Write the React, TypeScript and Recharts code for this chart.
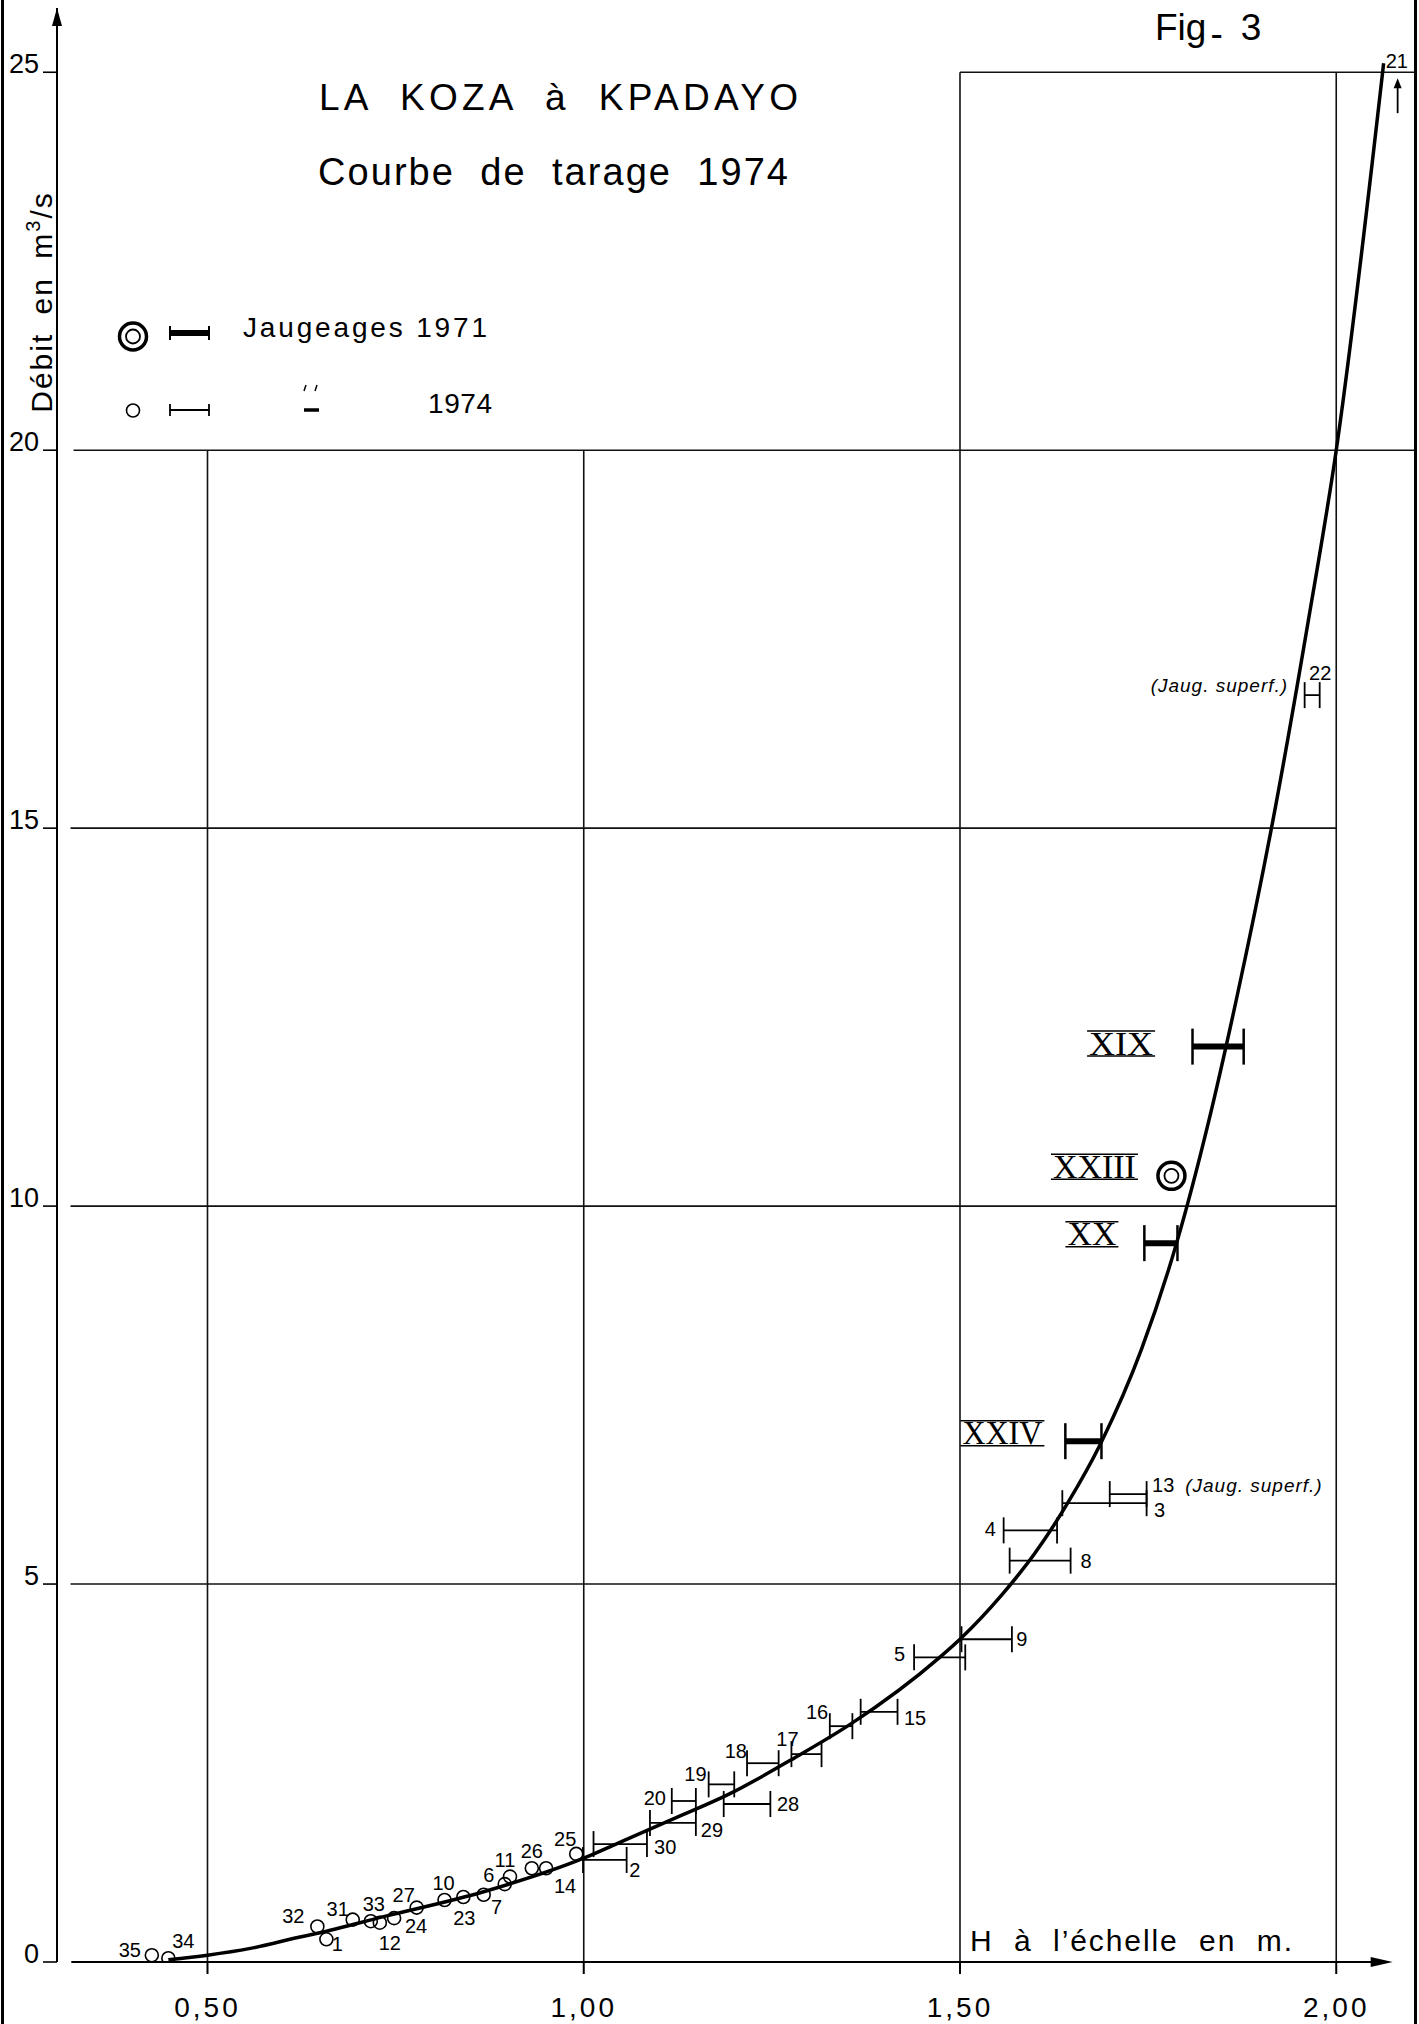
import React from "react"
import {
  ComposedChart,
  Line,
  Scatter,
  ErrorBar,
  XAxis,
  YAxis,
  ReferenceLine,
  ReferenceDot,
} from "recharts"

const FONT = "'Liberation Sans', Arial, sans-serif"
const SERIF = "'Liberation Serif', 'Times New Roman', serif"

// courbe de tarage 1974 (H en m, Q en m3/s)
const CURVE_H = [0.448, 0.5, 0.557, 0.623, 0.646, 0.734, 0.867, 0.999, 1.045, 1.116, 1.195, 1.28, 1.355, 1.473, 1.501, 1.555, 1.599, 1.643, 1.687, 1.741, 1.789, 1.83, 1.867, 1.916, 1.963, 2.0, 2.063]
const CURVE_Q = [0.03, 0.09, 0.18, 0.33, 0.38, 0.6, 0.93, 1.37, 1.57, 1.88, 2.23, 2.7, 3.15, 4.03, 4.28, 4.85, 5.4, 6.07, 6.86, 8.1, 9.55, 11.1, 12.72, 15.11, 17.75, 20.0, 25.12]

// jaugeages 1974 - cercles
const C74_ID = ["35", "34", "32", "1", "31", "33", "12", "24", "27", "10", "23", "7", "6", "11", "26", "14", "25"]
const C74_H = [0.426, 0.448, 0.646, 0.658, 0.693, 0.717, 0.729, 0.748, 0.778, 0.815, 0.84, 0.867, 0.895, 0.902, 0.931, 0.95, 0.99]
const C74_Q = [0.09, 0.05, 0.47, 0.3, 0.56, 0.54, 0.52, 0.58, 0.72, 0.82, 0.86, 0.89, 1.03, 1.13, 1.24, 1.24, 1.43]

// jaugeages 1974 - plages de H
const B74_ID = ["2", "30", "29", "20", "28", "19", "18", "17", "16", "15", "5", "9", "8", "4", "3", "13", "22"]
const B74_HMIN = [0.999, 1.013, 1.088, 1.117, 1.186, 1.166, 1.217, 1.276, 1.327, 1.368, 1.439, 1.502, 1.566, 1.558, 1.636, 1.699, 1.958]
const B74_HMAX = [1.057, 1.084, 1.149, 1.149, 1.248, 1.2, 1.259, 1.316, 1.357, 1.417, 1.507, 1.569, 1.647, 1.629, 1.748, 1.748, 1.978]
const B74_Q = [1.35, 1.56, 1.84, 2.13, 2.09, 2.35, 2.63, 2.75, 3.12, 3.31, 4.03, 4.27, 5.31, 5.71, 6.07, 6.19, 16.76]

// jaugeages 1971
const B71_ID = ["XIX", "XX", "XXIV"]
const B71_HMIN = [1.809, 1.745, 1.64]
const B71_HMAX = [1.877, 1.789, 1.688]
const B71_Q = [12.11, 9.51, 6.89]
const C71_ID = ["XXIII"]
const C71_H = [1.781]
const C71_Q = [10.4]

const Y_TICKS = [0, 5, 10, 15, 20, 25]
const X_TICKS = [0.5, 1.0, 1.5, 2.0]

// label placement (px from the mark, text centre)
const LBL: Record<string, [number, number]> = {
  "35": [-22, -5], "34": [15, -17], "32": [-24, -10], "1": [11, 5], "31": [-15, -11],
  "33": [3, -17], "12": [10, 20], "24": [22, 8], "27": [-13, -13], "10": [-1, -17],
  "23": [1, 21], "7": [13, 12], "6": [-16, -9], "11": [-5, -17], "26": [0, -17],
  "14": [19, 18], "25": [-11, -15],
  "2": [30, 10], "30": [45, 3], "29": [39, 7], "20": [-29, -3], "28": [41, 0],
  "19": [-26, -10], "18": [-27, -12], "17": [-19, -15], "16": [-24, -14], "15": [36, 6],
  "5": [-40, -3], "9": [35, 0], "8": [46, 0], "4": [-40, -1], "3": [55, 7],
  "13": [35, -9], "22": [8, -22],
}
const NOTE: Record<string, [number, number, "start" | "end"]> = {
  "13": [57, -9, "start"],
  "22": [-24, -10, "end"],
}
const ROMAN: Record<string, [number, number, number]> = {
  XIX: [-97, -3, 68], XX: [-69, -9, 53], XXIV: [-81, -8, 84], XXIII: [-77, -9, 87],
}

const curve = CURVE_H.map((h, i) => ({ h, q: CURVE_Q[i] }))
const circles74 = C74_ID.map((id, i) => ({ id, h: C74_H[i], q: C74_Q[i] }))
const bars74 = B74_ID.map((id, i) => ({
  id,
  h: (B74_HMIN[i] + B74_HMAX[i]) / 2,
  q: B74_Q[i],
  err: (B74_HMAX[i] - B74_HMIN[i]) / 2,
}))
const bars71 = B71_ID.map((id, i) => ({
  id,
  h: (B71_HMIN[i] + B71_HMAX[i]) / 2,
  q: B71_Q[i],
  err: (B71_HMAX[i] - B71_HMIN[i]) / 2,
}))
const circles71 = C71_ID.map((id, i) => ({ id, h: C71_H[i], q: C71_Q[i] }))

function NumLabel({ cx, cy, id }: any) {
  const [dx, dy] = LBL[id] ?? [0, -16]
  const note = NOTE[id]
  return (
    <g>
      <text x={cx + dx} y={cy + dy + 7} textAnchor="middle" fontSize={20} fontFamily={FONT}>
        {id}
      </text>
      {note && (
        <text
          x={cx + note[0]}
          y={cy + note[1] + 7}
          textAnchor={note[2]}
          fontSize={19}
          fontStyle="italic"
          fontFamily={FONT}
          letterSpacing={1}
        >
          (Jaug. superf.)
        </text>
      )}
    </g>
  )
}

function RomanLabel({ cx, cy, id }: any) {
  const [dx, dy, w] = ROMAN[id]
  const x = cx + dx
  const y = cy + dy
  return (
    <g>
      <line x1={x - w / 2} x2={x + w / 2} y1={y - 12.5} y2={y - 12.5} stroke="#000" strokeWidth={1.5} />
      <line x1={x - w / 2} x2={x + w / 2} y1={y + 12.5} y2={y + 12.5} stroke="#000" strokeWidth={1.5} />
      <text
        x={x}
        y={y + 11}
        textAnchor="middle"
        fontSize={33}
        fontFamily={SERIF}
        textLength={w - 4}
        lengthAdjust="spacingAndGlyphs"
      >
        {id}
      </text>
    </g>
  )
}

const circleShape = (p: any) => (
  <g>
    <circle cx={p.cx} cy={p.cy} r={6.5} fill="none" stroke="#000" strokeWidth={1.6} />
    <NumLabel cx={p.cx} cy={p.cy} id={p.payload.id} />
  </g>
)
const barLabelShape = (p: any) => <NumLabel cx={p.cx} cy={p.cy} id={p.payload.id} />
const romanShape = (p: any) => <RomanLabel cx={p.cx} cy={p.cy} id={p.payload.id} />
const doubleCircleShape = (p: any) => (
  <g>
    <circle cx={p.cx} cy={p.cy} r={13.5} fill="none" stroke="#000" strokeWidth={3.5} />
    <circle cx={p.cx} cy={p.cy} r={7} fill="none" stroke="#000" strokeWidth={1.8} />
    <RomanLabel cx={p.cx} cy={p.cy} id={p.payload.id} />
  </g>
)

function XTick({ x, y, payload }: any) {
  return (
    <text x={x} y={y + 43} textAnchor="middle" fontSize={28} fontFamily={FONT} letterSpacing={3}>
      {Number(payload.value).toFixed(2).replace(".", ",")}
    </text>
  )
}

function YTick({ x, y, payload }: any) {
  return (
    <g>
      <text x={x - 18} y={y + 1} textAnchor="end" fontSize={27} fontFamily={FONT}>
        {payload.value}
      </text>
      <line x1={x - 14} x2={x} y1={y} y2={y} stroke="#000" strokeWidth={1.6} />
    </g>
  )
}

const gridStyle = { stroke: "#111", strokeWidth: 1.6 }

export default function App() {
  return (
    <div style={{ position: "absolute", left: 0, top: 0, width: 1419, height: 2024, background: "#fff" }}>
      <ComposedChart width={1419} height={2024} margin={{ top: 8, right: 3, bottom: 0, left: 0 }}>
        <XAxis
          dataKey="h"
          type="number"
          domain={[0.3, 2.106]}
          ticks={X_TICKS}
          allowDataOverflow
          height={62}
          axisLine={false}
          tickSize={12}
          tickMargin={0}
          tickLine={{ stroke: "#000", strokeWidth: 2 }}
          tick={<XTick />}
        />
        <YAxis
          type="number"
          domain={[0, 25.85]}
          ticks={Y_TICKS}
          allowDataOverflow
          width={57}
          tickSize={0}
          tickMargin={0}
          tickLine={false}
          axisLine={{ stroke: "#000", strokeWidth: 2 }}
          tick={<YTick />}
        />

        {/* grille */}
        <ReferenceLine segment={[{ x: 1.5, y: 25 }, { x: 2.106, y: 25 }]} {...gridStyle} />
        <ReferenceLine segment={[{ x: 0.322, y: 20 }, { x: 2.106, y: 20 }]} {...gridStyle} />
        <ReferenceLine segment={[{ x: 0.318, y: 15 }, { x: 2.0, y: 15 }]} {...gridStyle} />
        <ReferenceLine segment={[{ x: 0.318, y: 10 }, { x: 2.0, y: 10 }]} {...gridStyle} />
        <ReferenceLine segment={[{ x: 0.318, y: 5 }, { x: 2.0, y: 5 }]} {...gridStyle} />
        <ReferenceLine segment={[{ x: 0.5, y: 0 }, { x: 0.5, y: 20 }]} {...gridStyle} />
        <ReferenceLine segment={[{ x: 1.0, y: 0 }, { x: 1.0, y: 20 }]} {...gridStyle} />
        <ReferenceLine segment={[{ x: 1.5, y: 0 }, { x: 1.5, y: 25 }]} {...gridStyle} />
        <ReferenceLine segment={[{ x: 2.0, y: 0 }, { x: 2.0, y: 25 }]} {...gridStyle} />
        {/* axe des H */}
        <ReferenceLine segment={[{ x: 0.319, y: 0 }, { x: 2.06, y: 0 }]} stroke="#000" strokeWidth={2} />
        <ReferenceDot
          x={2.075}
          y={0}
          ifOverflow="visible"
          shape={(p: any) => (
            <polygon points={`${p.cx},${p.cy} ${p.cx - 22},${p.cy - 5} ${p.cx - 22},${p.cy + 5}`} fill="#000" />
          )}
        />
        <ReferenceDot
          x={0.3}
          y={25.85}
          ifOverflow="visible"
          shape={(p: any) => (
            <polygon points={`${p.cx},${p.cy} ${p.cx - 5},${p.cy + 18} ${p.cx + 5},${p.cy + 18}`} fill="#000" />
          )}
        />

        <Line
          data={curve}
          dataKey="q"
          type="monotone"
          stroke="#000"
          strokeWidth={3.5}
          dot={false}
          isAnimationActive={false}
        />

        {/* jaugeage 21 hors cadre */}
        <ReferenceDot
          x={2.063}
          y={25.12}
          ifOverflow="visible"
          shape={(p: any) => (
            <g>
              <text x={p.cx + 2} y={p.cy + 5} fontSize={20} fontFamily={FONT}>21</text>
              <line x1={p.cx + 14} x2={p.cx + 14} y1={p.cy + 50} y2={p.cy + 22} stroke="#000" strokeWidth={1.8} />
              <polygon
                points={`${p.cx + 14},${p.cy + 15} ${p.cx + 10},${p.cy + 25} ${p.cx + 18},${p.cy + 25}`}
                fill="#000"
              />
            </g>
          )}
        />

        <Scatter data={bars74} dataKey="q" shape={barLabelShape} isAnimationActive={false}>
          <ErrorBar dataKey="err" direction="x" width={13} stroke="#000" strokeWidth={1.8} isAnimationActive={false} />
        </Scatter>
        <Scatter data={bars71} dataKey="q" shape={romanShape} isAnimationActive={false}>
          <ErrorBar dataKey="err" direction="x" width={0} stroke="#000" strokeWidth={6} isAnimationActive={false} />
          <ErrorBar dataKey="err" direction="x" width={18} stroke="#000" strokeWidth={2.5} isAnimationActive={false} />
        </Scatter>
        <Scatter data={circles74} dataKey="q" shape={circleShape} isAnimationActive={false} />
        <Scatter data={circles71} dataKey="q" shape={doubleCircleShape} isAnimationActive={false} />
      </ComposedChart>

      <svg
        width={1419}
        height={2024}
        style={{ position: "absolute", left: 0, top: 0, pointerEvents: "none" }}
      >
        <line x1={2.5} x2={2.5} y1={0} y2={2024} stroke="#000" strokeWidth={3} />
        <line x1={1415.5} x2={1415.5} y1={0} y2={2024} stroke="#000" strokeWidth={3} />

        <text x={1155} y={40} fontSize={37} fontFamily={FONT} style={{ whiteSpace: "pre" }}>
          Fig
          <tspan dy={6} dx={4}>-</tspan>
          <tspan dy={-6} dx={18}>3</tspan>
        </text>
        <text x={319} y={110} fontSize={37} fontFamily={FONT} textLength={479} style={{ whiteSpace: "pre" }}>
          LA  KOZA  à  KPADAYO
        </text>
        <text x={318} y={185} fontSize={38} fontFamily={FONT} textLength={470} style={{ whiteSpace: "pre" }}>
          Courbe  de  tarage  1974
        </text>

        <text
          transform="rotate(-90)"
          x={-302}
          y={52}
          textAnchor="middle"
          fontSize={30}
          fontFamily={FONT}
          letterSpacing={2}
          wordSpacing={8}
        >
          Débit en m
          <tspan dy={-12} fontSize={20}>3</tspan>
          <tspan dy={12}>/s</tspan>
        </text>

        {/* légende */}
        <circle cx={133} cy={336.5} r={13.5} fill="none" stroke="#000" strokeWidth={3.5} />
        <circle cx={133} cy={336.5} r={7} fill="none" stroke="#000" strokeWidth={1.8} />
        <line x1={170} x2={209} y1={333} y2={333} stroke="#000" strokeWidth={6} />
        <line x1={170} x2={170} y1={326} y2={340} stroke="#000" strokeWidth={2} />
        <line x1={209} x2={209} y1={326} y2={340} stroke="#000" strokeWidth={2} />
        <text x={243} y={337} fontSize={28} fontFamily={FONT} textLength={244}>
          Jaugeages 1971
        </text>
        <circle cx={133} cy={410.5} r={6.5} fill="none" stroke="#000" strokeWidth={1.6} />
        <line x1={170} x2={209} y1={410} y2={410} stroke="#000" strokeWidth={1.8} />
        <line x1={170} x2={170} y1={404} y2={416} stroke="#000" strokeWidth={1.8} />
        <line x1={209} x2={209} y1={404} y2={416} stroke="#000" strokeWidth={1.8} />
        <line x1={306} x2={304} y1={385} y2={391} stroke="#000" strokeWidth={1.5} />
        <line x1={317} x2={315} y1={385} y2={391} stroke="#000" strokeWidth={1.5} />
        <line x1={304} x2={319} y1={410} y2={410} stroke="#000" strokeWidth={3.5} />
        <text x={428} y={413} fontSize={28} fontFamily={FONT} textLength={64}>
          1974
        </text>

        <text x={970} y={1951} fontSize={30} fontFamily={FONT} textLength={322} style={{ whiteSpace: "pre" }}>
          H  à  l’échelle  en  m.
        </text>
      </svg>
    </div>
  )
}
